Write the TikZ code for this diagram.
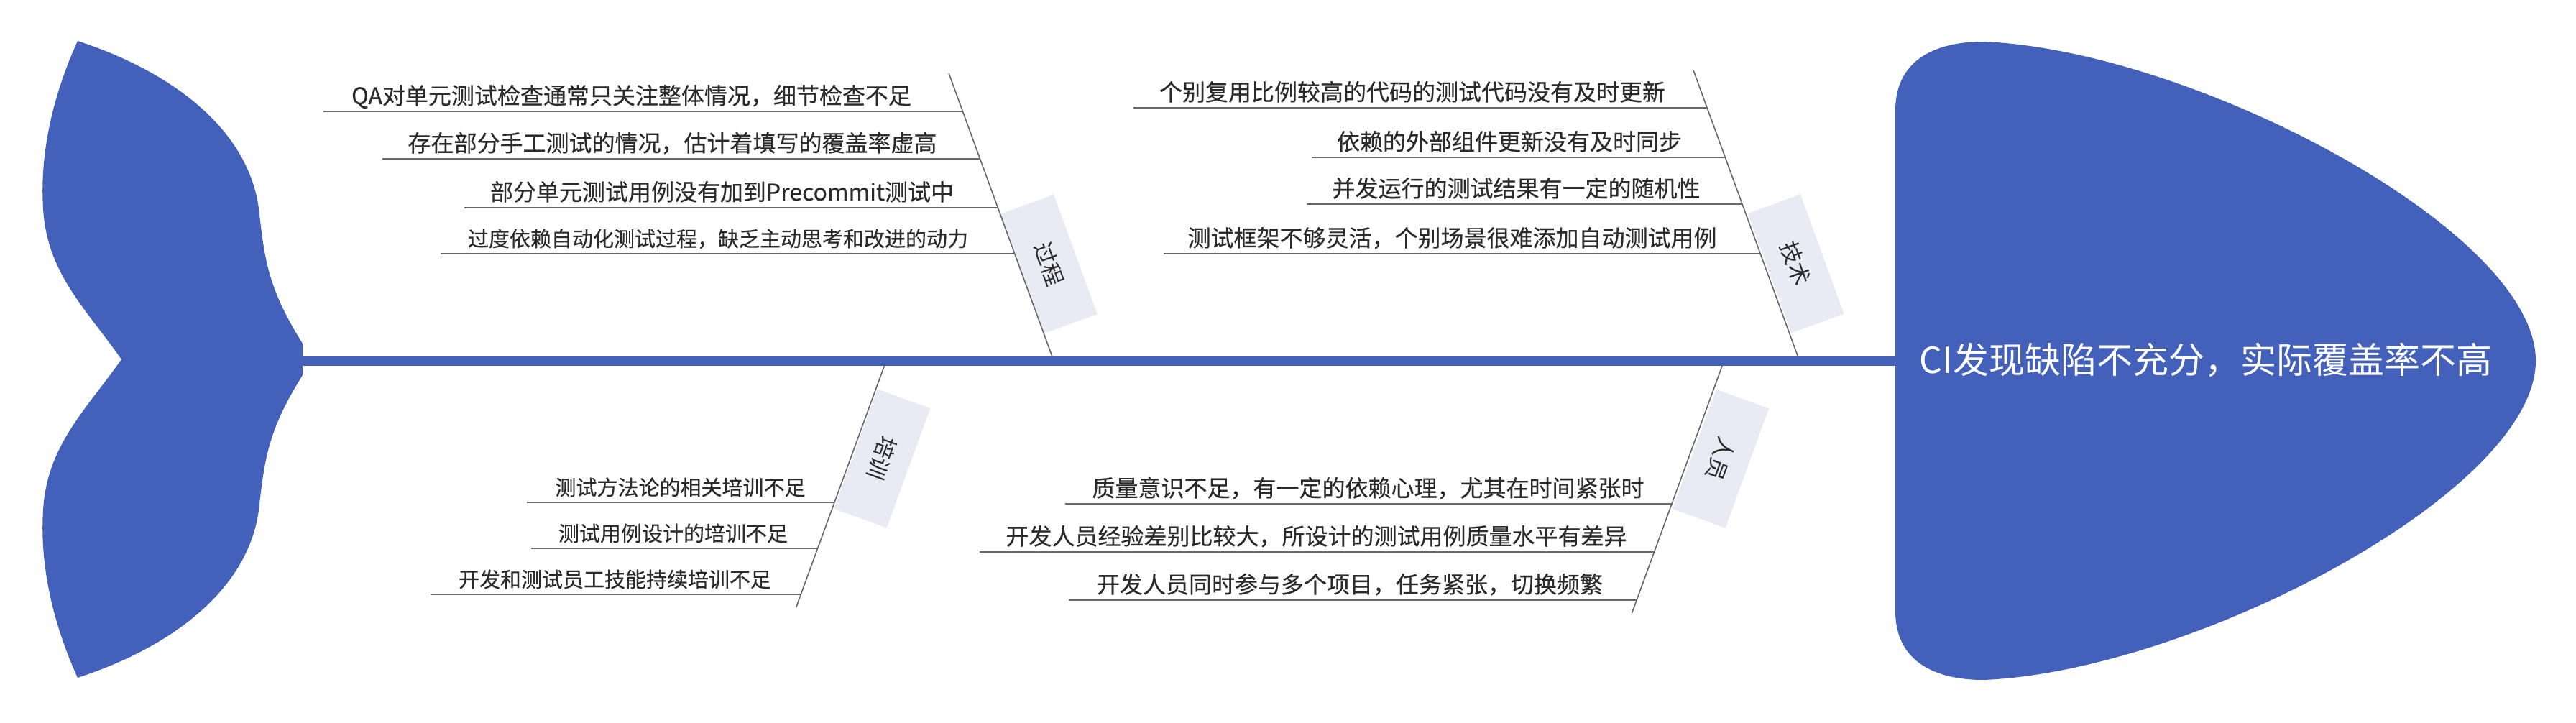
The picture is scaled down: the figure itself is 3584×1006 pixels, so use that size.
\documentclass[tikz,border=0pt]{standalone}
\usepackage{fontspec}
\setmainfont{Noto Sans CJK SC}
\newfontfamily\causefont{Noto Sans CJK SC}[FakeBold=0.35]
\definecolor{fishblue}{HTML}{4361BA}
\definecolor{catfill}{HTML}{E9EAF3}
\definecolor{txtgray}{HTML}{2B2B2B}
\definecolor{linegray}{HTML}{686868}
\begin{document}
\begin{tikzpicture}[x=1pt,y=-1pt,
  spine/.style={line width=13pt, draw=fishblue},
  bone/.style={line width=1.6pt, draw=linegray},
  twig/.style={line width=2.8pt, draw=linegray},
  cause/.style={anchor=base, text=txtgray, inner sep=0pt, font=\causefont\fontsize{32}{38}\selectfont},
  causesm/.style={cause, font=\causefont\fontsize{29}{35}\selectfont},
  catbox/.style={fill=catfill, minimum width=177pt, minimum height=78pt, inner sep=0pt, text=txtgray, font=\fontsize{31}{37}\selectfont},
  headtext/.style={anchor=base, text=white, inner sep=0pt, font=\fontsize{50}{60}\selectfont}]
\useasboundingbox (0,0) rectangle (3584,1006);
% tail
\fill[fishblue] (108,57) .. controls (240,100) and (345,180) .. (360,290)
  .. controls (368,360) and (372,400) .. (421,478) -- (421,522)
  .. controls (372,600) and (368,640) .. (360,710)
  .. controls (345,820) and (240,900) .. (108,943)
  .. controls (75,870) and (55,790) .. (60,710)
  .. controls (65,620) and (120,570) .. (169,500)
  .. controls (120,430) and (65,380) .. (60,290)
  .. controls (55,210) and (75,130) .. (108,57) -- cycle;
% head
\fill[fishblue] (2637,154) .. controls (2637,85) and (2690,58) .. (2760,58)
  .. controls (3050,70) and (3528,320) .. (3528,502)
  .. controls (3528,684) and (3050,934) .. (2760,946)
  .. controls (2690,946) and (2637,919) .. (2637,850) -- cycle;
\node[headtext] (head) at (3069,519) {CI发现缺陷不充分，实际覆盖率不高};
\coordinate (tailend) at (420,502.5);
\coordinate (headstart) at (2640,502.5);
\draw[spine] (tailend) -- (headstart);

% category boxes
\node[catbox, rotate=-70] (gcbox) at (1459.75,367.25) {过程};
\node[catbox, rotate=-70] (jsbox) at (2498.6,366.9) {技术};
\node[catbox, rotate=-110] (pxbox) at (1227.3,638) {培训};
\node[catbox, rotate=-110] (rybox) at (2394.2,638.2) {人员};

% bone: 过程
\coordinate (gcT) at (1320.1,102);
\coordinate (gcB) at (1463.9,496);
\draw[bone] (gcB) -- (gcT);
\coordinate (gc1a) at (450,155);  \coordinate (gc1b) at (1339.5,155);
\coordinate (gc2a) at (532,221);  \coordinate (gc2b) at (1363.5,221);
\coordinate (gc3a) at (646,289);  \coordinate (gc3b) at (1388.4,289);
\coordinate (gc4a) at (613,353);  \coordinate (gc4b) at (1411.7,353);
\draw[twig] (gc1b) -- (gc1a);
\draw[twig] (gc2b) -- (gc2a);
\draw[twig] (gc3b) -- (gc3a);
\draw[twig] (gc4b) -- (gc4a);
\node[cause] (gc1) at (878.5,145) {QA对单元测试检查通常只关注整体情况，细节检查不足};
\node[cause] (gc2) at (935.5,211) {存在部分手工测试的情况，估计着填写的覆盖率虚高};
\node[cause] (gc3) at (1004.5,279) {部分单元测试用例没有加到Precommit测试中};
\node[causesm] (gc4) at (999,343) {过度依赖自动化测试过程，缺乏主动思考和改进的动力};

% bone: 技术
\coordinate (jsT) at (2356.1,98);
\coordinate (jsB) at (2501.4,496);
\draw[bone] (jsB) -- (jsT);
\coordinate (js1a) at (1577,150);  \coordinate (js1b) at (2375.1,150);
\coordinate (js2a) at (1825,219);  \coordinate (js2b) at (2400.3,219);
\coordinate (js3a) at (1818,284);  \coordinate (js3b) at (2424,284);
\coordinate (js4a) at (1619,353);  \coordinate (js4b) at (2449.2,353);
\draw[twig] (js1b) -- (js1a);
\draw[twig] (js2b) -- (js2a);
\draw[twig] (js3b) -- (js3a);
\draw[twig] (js4b) -- (js4a);
\node[cause] (js1) at (1965,140) {个别复用比例较高的代码的测试代码没有及时更新};
\node[cause] (js2) at (2100,209) {依赖的外部组件更新没有及时同步};
\node[cause] (js3) at (2109.5,274) {并发运行的测试结果有一定的随机性};
\node[cause] (js4) at (2020.5,343) {测试框架不够灵活，个别场景很难添加自动测试用例};

% bone: 培训
\coordinate (pxT) at (1230.4,509);
\coordinate (pxB) at (1107.7,845);
\draw[bone] (pxT) -- (pxB);
\coordinate (px1a) at (733,699);  \coordinate (px1b) at (1161,699);
\coordinate (px2a) at (739,763);  \coordinate (px2b) at (1137.6,763);
\coordinate (px3a) at (599,827);  \coordinate (px3b) at (1114.3,827);
\draw[twig] (px1b) -- (px1a);
\draw[twig] (px2b) -- (px2a);
\draw[twig] (px3b) -- (px3a);
\node[causesm] (px1) at (946.5,689) {测试方法论的相关培训不足};
\node[causesm] (px2) at (936.5,753) {测试用例设计的培训不足};
\node[causesm] (px3) at (855.5,817) {开发和测试员工技能持续培训不足};

% bone: 人员
\coordinate (ryT) at (2396.1,509);
\coordinate (ryB) at (2270.5,853);
\draw[bone] (ryT) -- (ryB);
\coordinate (ry1a) at (1482,701);  \coordinate (ry1b) at (2326,701);
\coordinate (ry2a) at (1363,768);  \coordinate (ry2b) at (2301.5,768);
\coordinate (ry3a) at (1487,835);  \coordinate (ry3b) at (2277.1,835);
\draw[twig] (ry1b) -- (ry1a);
\draw[twig] (ry2b) -- (ry2a);
\draw[twig] (ry3b) -- (ry3a);
\node[cause] (ry1) at (1903.5,691) {质量意识不足，有一定的依赖心理，尤其在时间紧张时};
\node[cause] (ry2) at (1831.5,758) {开发人员经验差别比较大，所设计的测试用例质量水平有差异};
\node[cause] (ry3) at (1878,825) {开发人员同时参与多个项目，任务紧张，切换频繁};
\end{tikzpicture}
\end{document}
